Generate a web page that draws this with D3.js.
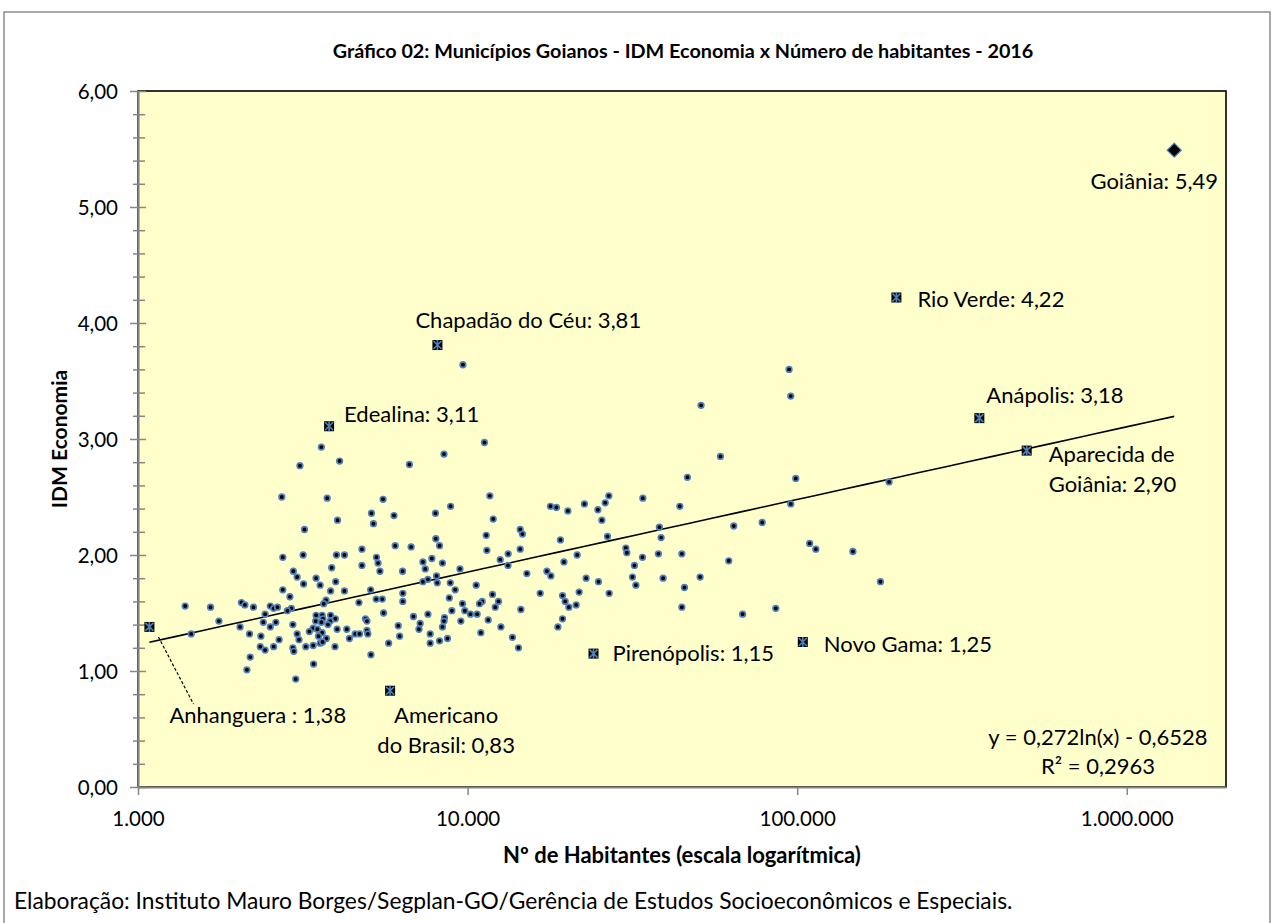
<!DOCTYPE html>
<html>
<head>
<meta charset="utf-8">
<script src="https://cdn.jsdelivr.net/npm/d3@7"></script>
<style>
  body { margin: 0; background: #fff; }
  text { font-family: Lato, "Open Sans", sans-serif; fill: #000; }
</style>
</head>
<body>
<svg id="chart" width="1275" height="923"></svg>
<script>
// municipios comuns: habitantes e IDM Economia
var habitantes = [
  3600,3100,4090,6660,2730,3750,5540,5110,5980,4030,
  5180,3200,4780,6030,6740,2750,3170,4000,4230,5290,
  7320,7440,5350,5420,3870,2960,3040,4780,6350,3470,
  3980,3180,3570,7320,7580,2750,5080,3840,4230,6360,
  2890,5280,5510,3720,6360,2060,2110,2240,1390,1660,
  2520,2580,2650,2920,2840,3660,4680,2430,1760,3470,
  3620,3840,3970,3640,3460,3830,3600,3770,2400,2620,
  2520,2040,2950,3400,3500,3310,4020,4300,4900,4950,
  5560,6850,7580,7180,6160,7120,4950,1450,2180,2360,
  2680,3040,3080,3620,3530,3730,3570,3630,4380,4560,
  4700,4980,6220,7700,7700,5760,2350,2430,2580,2950,
  2970,3230,3400,3960,5090,2190,3410,2140,3010,
  9680,51100,11250,8480,46450,11680,7990,8880,11960,17840,
  18600,20150,22620,24850,26150,26830,25550,34020,44050,14440,
  14670,11390,8010,26570,38190,38650,19130,8220,11440,14440,
  13280,12560,7790,8390,13260,9480,8050,8090,8860,15130,
  17400,17890,19600,21500,30210,30420,33930,37930,44670,32080,
  31640,32400,39190,50760,22890,24950,26890,21800,45490,44670,
  19410,19770,20290,21350,16610,19410,18790,14510,9170,8800,
  10620,11900,11070,10870,12410,12130,9650,9810,8960,10200,
  10690,8510,8480,9540,11550,8390,12620,10970,8220,8690,
  13680,14270,94500,95600,58500,99000,95600,190000,64200,78300,
  62000,109100,113900,147600,178900,68300,86100
];
var idmEconomia = [
  2.93,2.77,2.81,2.78,2.50,2.49,2.48,2.36,2.34,2.30,
  2.27,2.22,2.05,2.08,2.07,1.98,2.00,2.00,2.00,1.98,
  1.94,1.88,1.93,1.86,1.89,1.86,1.81,1.91,1.86,1.80,
  1.77,1.75,1.74,1.77,1.79,1.70,1.70,1.69,1.69,1.67,
  1.64,1.62,1.62,1.61,1.60,1.59,1.57,1.55,1.56,1.55,
  1.56,1.54,1.55,1.54,1.52,1.58,1.59,1.49,1.43,1.48,
  1.48,1.48,1.45,1.45,1.43,1.43,1.42,1.40,1.42,1.42,
  1.38,1.38,1.40,1.37,1.36,1.34,1.36,1.36,1.45,1.43,
  1.50,1.47,1.49,1.41,1.39,1.36,1.35,1.32,1.32,1.30,
  1.27,1.32,1.27,1.33,1.30,1.28,1.24,1.25,1.28,1.32,
  1.32,1.32,1.30,1.32,1.24,1.24,1.21,1.18,1.21,1.20,
  1.17,1.21,1.22,1.21,1.14,1.12,1.06,1.01,0.93,
  3.64,3.29,2.97,2.87,2.67,2.51,2.36,2.42,2.31,2.42,
  2.41,2.38,2.44,2.39,2.45,2.51,2.30,2.49,2.42,2.22,
  2.18,2.17,2.14,2.16,2.24,2.15,2.13,2.08,2.04,2.05,
  2.01,1.96,1.97,1.93,1.91,1.88,1.82,1.76,1.76,1.84,
  1.86,1.82,1.94,2.00,2.06,2.02,1.98,2.01,2.01,1.91,
  1.81,1.74,1.80,1.81,1.80,1.77,1.67,1.68,1.72,1.55,
  1.65,1.60,1.55,1.57,1.67,1.45,1.38,1.53,1.70,1.63,
  1.74,1.66,1.60,1.58,1.60,1.55,1.58,1.52,1.52,1.49,
  1.49,1.46,1.43,1.43,1.44,1.38,1.38,1.33,1.26,1.28,
  1.29,1.20,3.60,3.37,2.85,2.66,2.44,2.63,2.25,2.28,
  1.95,2.10,2.05,2.03,1.77,1.49,1.54
];

// municipios em destaque
var destaqueNomes = ["Goiânia", "Rio Verde", "Anápolis", "Aparecida de Goiânia", "Novo Gama",
                     "Pirenópolis", "Americano do Brasil", "Chapadão do Céu", "Edealina", "Anhanguera"];
var destaqueHab = [1393000, 200000, 357000, 497000, 104000, 24100, 5820, 8100, 3800, 1083];
var destaqueIdm = [5.49, 4.22, 3.18, 2.90, 1.25, 1.15, 0.83, 3.81, 3.11, 1.38];
var destaqueRotulos = [["Goiânia: 5,49"], ["Rio Verde: 4,22"], ["Anápolis: 3,18"], ["Aparecida de", "Goiânia: 2,90"],
                       ["Novo Gama: 1,25"], ["Pirenópolis: 1,15"], ["Americano", "do Brasil:  0,83"],
                       ["Chapadão do Céu: 3,81"], ["Edealina: 3,11"], ["Anhanguera : 1,38"]];

var yTicks = [0, 1, 2, 3, 4, 5, 6];
var xTicks = [1000, 10000, 100000, 1000000];
var tendA = 0.272, tendB = -0.6528;
var titulo = "Gráfico 02: Municípios Goianos - IDM Economia x Número de habitantes - 2016";
var fonte = "Elaboração: Instituto Mauro Borges/Segplan-GO/Gerência de Estudos Socioeconômicos e Especiais.";

// posicao dos rotulos (dx, dy em px a partir do marcador, ancora)
var rotuloPos = [
  {dx: -20, dy: 31, anchor: "middle"},
  {dx: 21, dy: 2, anchor: "start"},
  {dx: 7, dy: -23, anchor: "start"},
  {dx: 22, dy: 4, anchor: "start"},
  {dx: 21, dy: 2, anchor: "start"},
  {dx: 19, dy: 0, anchor: "start"},
  {dx: 56, dy: 25, anchor: "middle"},
  {dx: -22, dy: -25, anchor: "start"},
  {dx: 15, dy: -12, anchor: "start"},
  {dx: 20, dy: 88, anchor: "start"}
];

var svg = d3.select("#chart");
var plotL = 138, plotR = 1226, plotT = 91, plotB = 787;
var axisGray = "#868686", blue = "#4F81BD";

// moldura externa
svg.append("rect").attr("x", 4).attr("y", 12).attr("width", 1266).attr("height", 930)
  .attr("fill", "#fff").attr("stroke", "#8c8c8c").attr("stroke-width", 1.5);

var x = d3.scaleLog().domain([1000, 2000000]).range([plotL, plotR]);
var y = d3.scaleLinear().domain([0, 6]).range([plotB, plotT]);

svg.append("rect").attr("x", plotL).attr("y", plotT).attr("width", plotR - plotL).attr("height", plotB - plotT)
  .attr("fill", "#FFFFCC").attr("stroke", "#000").attr("stroke-width", 1.6);

var virgula = function(d) { return d3.format(".2f")(d).replace(".", ","); };
var milhar = function(d) { return d3.format(",")(d).replace(/,/g, "."); };

// eixo y - menores
var yMinor = svg.append("g").attr("transform", "translate(" + plotL + ",0)")
  .call(d3.axisLeft(y).tickValues(d3.range(1, 30).map(function(i) { return i / 5; }).filter(function(v) { return Math.abs(v - Math.round(v)) > 0.01; }))
    .tickSize(5).tickFormat(""));
yMinor.select(".domain").remove();
yMinor.selectAll("line").attr("x1", 7).attr("stroke", axisGray).attr("stroke-width", 1.5);

var yAxis = svg.append("g").attr("transform", "translate(" + plotL + ",0)")
  .call(d3.axisLeft(y).tickValues(yTicks).tickSize(8).tickSizeOuter(0).tickPadding(12).tickFormat(virgula));
yAxis.selectAll("line").attr("x1", 8).attr("stroke", axisGray).attr("stroke-width", 1.5);
yAxis.select(".domain").attr("stroke", axisGray).attr("stroke-width", 2.2);
yAxis.selectAll("text").style("font-size", "20.5px").attr("dy", "0.35em");

var xAxis = svg.append("g").attr("transform", "translate(0," + plotB + ")")
  .call(d3.axisBottom(x).tickValues(xTicks).tickSize(8).tickSizeOuter(0).tickPadding(16).tickFormat(milhar));
xAxis.selectAll("line").attr("stroke", axisGray).attr("stroke-width", 1.5);
xAxis.select(".domain").attr("stroke", axisGray).attr("stroke-width", 2.2);
xAxis.selectAll("text").style("font-size", "20.5px");

// linha de tendencia logaritmica
var habExt = d3.extent(habitantes.concat(destaqueHab));
var tendPts = d3.range(0, 41).map(function(i) {
  var h = habExt[0] * Math.pow(habExt[1] / habExt[0], i / 40);
  return [h, tendA * Math.log(h) + tendB];
});
svg.append("path").datum(tendPts)
  .attr("d", d3.line().x(function(d) { return x(d[0]); }).y(function(d) { return y(d[1]); }))
  .attr("fill", "none").attr("stroke", "#000").attr("stroke-width", 1.6);

// pontos
var pontos = habitantes.map(function(h, i) { return {hab: h, idm: idmEconomia[i]}; });
svg.append("g").selectAll("circle").data(pontos).enter().append("circle")
  .attr("cx", function(d) { return x(d.hab); })
  .attr("cy", function(d) { return y(d.idm); })
  .attr("r", 2.8).attr("fill", "#000").attr("stroke", blue).attr("stroke-width", 1.7);

// destaques
var destaques = destaqueNomes.map(function(n, i) {
  return {nome: n, hab: destaqueHab[i], idm: destaqueIdm[i], rotulo: destaqueRotulos[i], pos: rotuloPos[i]};
});

var g = svg.append("g");
destaques.forEach(function(d, i) {
  var cx = x(d.hab), cy = y(d.idm);
  if (i === 0) {
    g.append("path").attr("d", "M" + cx + "," + (cy - 7) + "L" + (cx + 7) + "," + cy + "L" + cx + "," + (cy + 7) + "L" + (cx - 7) + "," + cy + "Z")
      .attr("fill", "#000").attr("stroke", blue).attr("stroke-width", 1.3);
  } else {
    g.append("rect").attr("x", cx - 5).attr("y", cy - 5).attr("width", 10).attr("height", 10).attr("fill", "#000");
    g.append("path")
      .attr("d", "M" + (cx - 4) + "," + (cy - 4) + "L" + (cx + 4) + "," + (cy + 4) +
                 "M" + (cx + 4) + "," + (cy - 4) + "L" + (cx - 4) + "," + (cy + 4) +
                 "M" + cx + "," + (cy - 5) + "L" + cx + "," + (cy + 5))
      .attr("stroke", blue).attr("stroke-width", 1.6).attr("fill", "none");
  }
  var t = g.append("text").attr("x", cx + d.pos.dx).attr("y", cy + d.pos.dy)
    .attr("text-anchor", d.pos.anchor).style("font-size", "22px");
  d.rotulo.forEach(function(linha, k) {
    t.append("tspan").attr("x", cx + d.pos.dx).attr("dy", k === 0 ? "0.35em" : "1.36em").text(linha);
  });
});

// linha guia de Anhanguera
var an = destaques[9];
svg.append("line")
  .attr("x1", x(an.hab) + 9).attr("y1", y(an.idm) + 10)
  .attr("x2", x(an.hab) + 44).attr("y2", y(an.idm) + 77)
  .attr("stroke", "#000").attr("stroke-width", 1.2).attr("stroke-dasharray", "3,2");

// equacao
svg.append("text").attr("x", 1098).attr("y", 737).attr("dy", "0.35em").attr("text-anchor", "middle")
  .style("font-size", "22px").text("y = 0,272ln(x) - 0,6528");
svg.append("text").attr("x", 1098).attr("y", 766).attr("dy", "0.35em").attr("text-anchor", "middle")
  .style("font-size", "22px").text("R² = 0,2963");

// titulos
svg.append("text").attr("x", 683).attr("y", 51).attr("dy", "0.35em").attr("text-anchor", "middle")
  .style("font-size", "19.8px").style("font-weight", "bold").text(titulo);
svg.append("text").attr("transform", "translate(60,439) rotate(-90)").attr("dy", "0.35em").attr("text-anchor", "middle")
  .style("font-size", "21px").style("font-weight", "bold").text("IDM Economia");
svg.append("text").attr("x", 682).attr("y", 855).attr("dy", "0.35em").attr("text-anchor", "middle")
  .style("font-size", "22px").style("font-weight", "bold").text("Nº de Habitantes (escala logarítmica)");
svg.append("text").attr("x", 14).attr("y", 901).attr("dy", "0.35em")
  .style("font-size", "22.8px").text(fonte);
</script>
</body>
</html>
